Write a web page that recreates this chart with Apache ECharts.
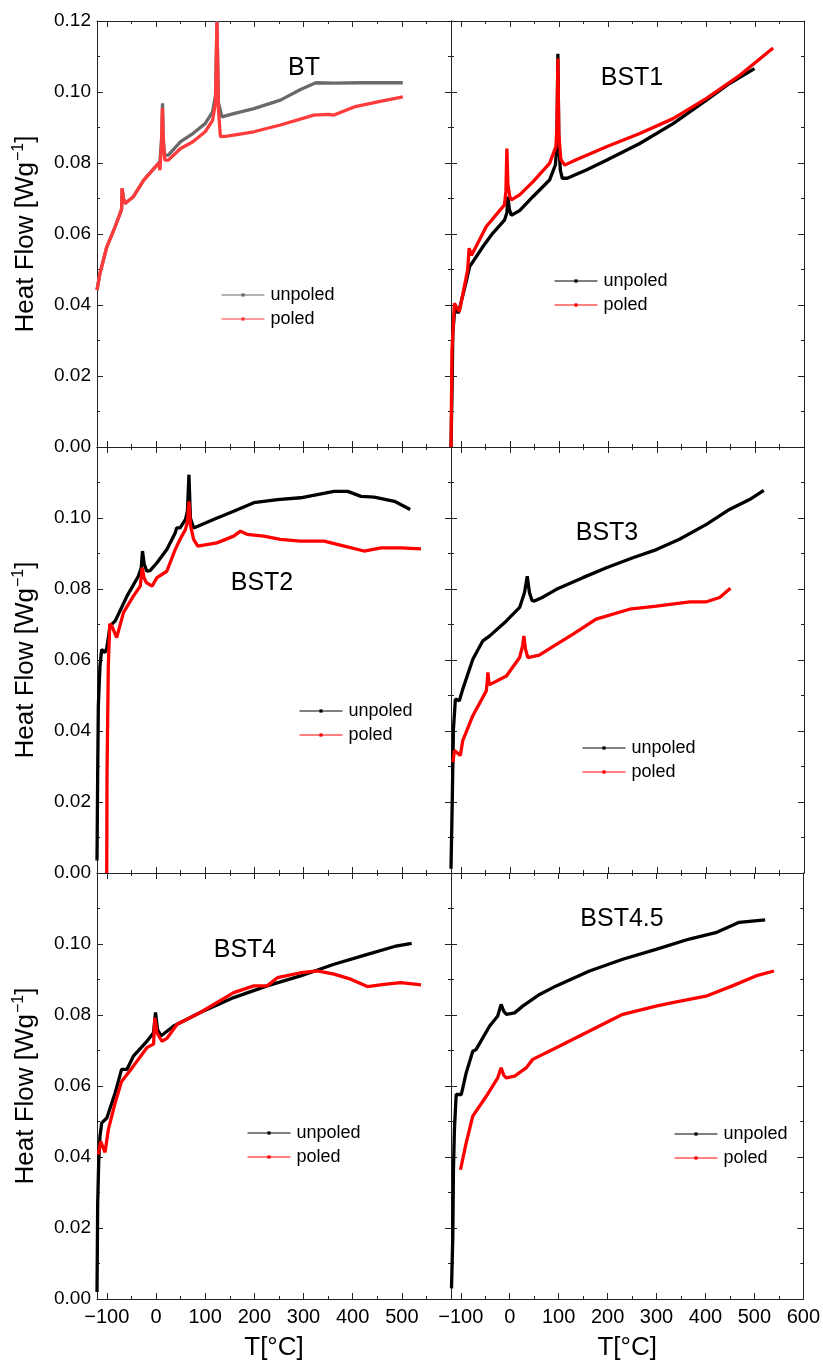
<!DOCTYPE html>
<html>
<head>
<meta charset="utf-8">
<script src="https://cdn.jsdelivr.net/npm/echarts@6/dist/echarts.min.js"></script>
<style>
html,body{margin:0;padding:0;background:#fff;}
#c{width:823px;height:1363px;}
</style>
</head>
<body>
<div id="c"></div>
<script>
// ---------- DATA (T in °C, heat flow in W/g) ----------
const panelNames = ['BT', 'BST1', 'BST2', 'BST3', 'BST4', 'BST4.5'];
const seriesLabels = ['unpoled', 'poled'];
const yTickValues = [0, 0.02, 0.04, 0.06, 0.08, 0.10, 0.12];
const xMajorTicks = [-100, 0, 100, 200, 300, 400, 500, 600];
const xMinorTicks = [-50, 50, 150, 250, 350, 450, 550];
const xLabelsLeft = [-100, 0, 100, 200, 300, 400, 500];
const xLabelsRight = [-100, 0, 100, 200, 300, 400, 500, 600];

const btUnpoled = [[-120,0.0442],[-114,0.0489],[-100,0.0564],[-83,0.0621],[-73,0.0658],[-70,0.067],[-69,0.0729],[-66,0.07],[-63,0.0686],[-46,0.0705],[-25,0.0752],[5,0.0799],[8,0.0805],[12,0.088],[13.3,0.0968],[14.5,0.088],[17,0.0822],[25,0.0822],[50,0.086],[75,0.0883],[100,0.0911],[115,0.0944],[121,0.099],[124,0.12],[127,0.097],[134,0.093],[158,0.0939],[199,0.0953],[253,0.0977],[294,0.1007],[325,0.1026],[361,0.1025],[420,0.1026],[502,0.1026]];
const btPoled = [[-120,0.0442],[-114,0.0489],[-100,0.0564],[-83,0.0621],[-73,0.0658],[-70,0.067],[-69,0.0729],[-66,0.07],[-63,0.0686],[-46,0.0705],[-25,0.0752],[5,0.0799],[8,0.078],[11,0.085],[13,0.0955],[15,0.086],[18,0.0808],[25,0.0808],[50,0.0841],[75,0.086],[100,0.0888],[115,0.092],[121,0.097],[124,0.1197],[127,0.095],[131,0.0874],[145,0.0876],[199,0.0888],[253,0.0907],[321,0.0935],[350,0.0937],[362,0.0935],[403,0.0958],[451,0.0972],[502,0.0986]];

const bst1Unpoled = [[-120,0],[-118,0.015],[-116.3,0.0321],[-113,0.0377],[-110,0.039],[-105,0.0377],[-90,0.046],[-82,0.0508],[-78,0.0508],[-55,0.0564],[-35,0.0602],[-11,0.0639],[-6,0.066],[-4,0.0705],[-1,0.067],[3,0.0653],[20,0.0666],[47,0.0705],[81,0.0752],[93,0.0795],[96,0.085],[98,0.1108],[100,0.085],[103,0.078],[107,0.0757],[117,0.0757],[156,0.078],[197,0.0808],[265,0.0855],[333,0.0911],[401,0.0977],[448,0.1024],[499,0.1066]];
const bst1Poled = [[-120,0],[-118,0.0274],[-113,0.0405],[-110,0.041],[-103,0.0381],[-86,0.0499],[-83,0.056],[-82,0.0564],[-78,0.054],[-75,0.0536],[-48,0.0621],[-11,0.0682],[-8,0.072],[-6,0.0841],[-4,0.074],[0,0.0705],[3,0.0696],[20,0.071],[47,0.0747],[81,0.0799],[94,0.0846],[96,0.09],[98,0.1094],[100,0.088],[104,0.081],[112,0.0794],[133,0.0808],[197,0.0846],[265,0.0883],[333,0.0925],[401,0.0982],[469,0.1047],[537,0.1124]];

const bst2Unpoled = [[-120,0.0035],[-118.6,0.0284],[-117.3,0.0471],[-114,0.0583],[-110.5,0.063],[-104,0.0621],[-100,0.0634],[-93.5,0.0696],[-83,0.071],[-59,0.078],[-36,0.0836],[-30,0.086],[-27.5,0.0907],[-24,0.087],[-18.6,0.085],[-12,0.0852],[2,0.0874],[22,0.0911],[39,0.0958],[42,0.0972],[49,0.0972],[60,0.0996],[64,0.102],[67,0.1122],[70,0.1],[76.5,0.0972],[85,0.0977],[117,0.0996],[158,0.1019],[199,0.1043],[247,0.1052],[294,0.1057],[328,0.1066],[362,0.1075],[390,0.1075],[417,0.1061],[444,0.1059],[485,0.1047],[517,0.1024]];
const bst2Poled = [[-100.2,0],[-99.6,0.0281],[-97,0.0583],[-94,0.0702],[-90,0.0696],[-85,0.068],[-80,0.0663],[-77,0.0663],[-66,0.0734],[-46,0.078],[-32,0.0808],[-28,0.086],[-24,0.083],[-19.6,0.0818],[-8,0.0808],[2,0.0832],[22,0.085],[39,0.0911],[49,0.094],[60,0.0968],[64,0.099],[67,0.1047],[70,0.098],[76.5,0.094],[85,0.0921],[124,0.093],[158,0.0949],[172,0.0963],[185,0.0954],[219,0.0949],[253,0.094],[294,0.0935],[342,0.0935],[383,0.0921],[423,0.0907],[458,0.0916],[498,0.0916],[539,0.0913]];

const bst3Unpoled = [[-120,0.0012],[-117.6,0.019],[-115,0.0406],[-111,0.049],[-103,0.0485],[-96,0.0518],[-75.5,0.0602],[-55,0.0654],[-41,0.0668],[-7,0.071],[20,0.0748],[30,0.079],[35.5,0.0836],[40,0.079],[45,0.0768],[50,0.0766],[66,0.0776],[95,0.0799],[149,0.0832],[197,0.086],[251,0.0888],[299,0.0911],[346,0.094],[401,0.0982],[448,0.1024],[489,0.1052],[518,0.1078]];
const bst3Poled = [[-116,0.0312],[-113,0.0345],[-101,0.0331],[-96,0.0373],[-75.5,0.0443],[-48,0.0513],[-46,0.054],[-44.8,0.0565],[-42,0.053],[-41,0.0526],[-7,0.0555],[20,0.0607],[26,0.064],[28.6,0.0668],[32,0.063],[36.7,0.0607],[60,0.0614],[95,0.0644],[129,0.0673],[176,0.0715],[244,0.0743],[299,0.0752],[367,0.0764],[401,0.0764],[428,0.0776],[450,0.0802]];

const bst4Unpoled = [[-120,0.002],[-118.6,0.027],[-116.6,0.0383],[-114,0.0458],[-110.4,0.0496],[-100,0.051],[-83,0.0581],[-70,0.0647],[-59,0.0647],[-46,0.0684],[-18.6,0.0726],[-5,0.075],[-1,0.0807],[3,0.076],[10,0.0741],[36,0.0769],[90,0.0807],[158,0.0849],[226,0.0882],[294,0.091],[362,0.0943],[430,0.0971],[485,0.0993],[520,0.1002]];
const bst4Poled = [[-117.3,0.0407],[-112.5,0.0444],[-103.7,0.0413],[-97,0.0477],[-83,0.0553],[-70,0.0613],[-46,0.0656],[-18.6,0.0708],[-5,0.0718],[-2.3,0.0792],[2,0.075],[12,0.0726],[22,0.0734],[43,0.0774],[90,0.0807],[158,0.0863],[199,0.0882],[226,0.0882],[247,0.0905],[294,0.0919],[328,0.0924],[362,0.0915],[396,0.0901],[430,0.088],[464,0.0886],[498,0.0891],[539,0.0885]];

const bst45Unpoled = [[-119,0.003],[-116.3,0.0176],[-115,0.0364],[-113,0.0477],[-109.4,0.0576],[-99,0.0576],[-89,0.0637],[-75.5,0.0698],[-68.6,0.0703],[-41,0.0769],[-24.5,0.0797],[-17.6,0.083],[-12,0.081],[-7,0.0802],[10,0.0806],[26.5,0.0825],[61,0.0858],[95,0.0882],[163,0.0924],[231,0.0957],[299,0.0985],[367,0.1014],[421,0.1032],[469,0.1061],[522,0.1068]];
const bst45Poled = [[-100.6,0.0364],[-89,0.044],[-75.5,0.0515],[-72,0.052],[-48,0.0571],[-24.5,0.0623],[-17.6,0.0651],[-12,0.063],[-7,0.0623],[10,0.0628],[33.5,0.0651],[47,0.0675],[95,0.0708],[163,0.0755],[231,0.0802],[299,0.0825],[333,0.0835],[401,0.0853],[455,0.0882],[503,0.091],[540,0.0924]];

// ---------- LAYOUT / STYLE ----------
const panelData = [
  [btUnpoled, btPoled], [bst1Unpoled, bst1Poled],
  [bst2Unpoled, bst2Poled], [bst3Unpoled, bst3Poled],
  [bst4Unpoled, bst4Poled], [bst45Unpoled, bst45Poled]
];
const FONT = 'Liberation Sans, Arial, Helvetica, sans-serif';
const AX = '#222';
const gridTops = [21, 447, 873];
const gridH = 426;
const colLeft = [97, 451];
const colW = [354, 353];
const unpoledColors = ['#6a6a6a', '#000', '#000', '#000', '#000', '#000'];
const poledColors = ['#ff3b3b', '#ff0000', '#ff0000', '#ff0000', '#ff0000', '#ff0000'];
const labelPos = [[304, 68], [632, 78], [262, 583], [607, 533], [245, 950], [622, 919]];
const legendPos = [[221, 286], [554, 272], [299, 702], [582, 739], [247, 1124], [674, 1125]];

function fmtX(v) { return v < 0 ? '\u2212' + Math.abs(v) : String(v); }

const grid = [], xAxis = [], yAxis = [], series = [], legend = [], graphic = [];
for (let i = 0; i < 6; i++) {
  const row = Math.floor(i / 2), col = i % 2;
  grid.push({ left: colLeft[col], top: gridTops[row], width: colW[col], height: gridH, containLabel: false });
  const baseX = {
    gridIndex: i, type: 'value', min: -120, max: 600,
    splitLine: { show: false },
    axisLine: { show: true, onZero: false, lineStyle: { color: AX, width: 1 } },
    axisPointer: { show: false }
  };
  const isBottom = row === 2;
  xAxis.push(Object.assign({}, baseX, {
    position: 'bottom',
    axisTick: { show: true, inside: true, length: 6, customValues: xMajorTicks, lineStyle: { color: AX } },
    axisLabel: {
      show: isBottom, customValues: col === 0 ? xLabelsLeft : xLabelsRight,
      formatter: fmtX, fontSize: 20, color: '#000', fontFamily: FONT, margin: 8
    },
    name: isBottom ? 'T[°C]' : '', nameLocation: 'middle', nameGap: 36,
    nameTextStyle: { fontSize: 26, color: '#000', fontFamily: FONT }
  }));
  xAxis.push(Object.assign({}, baseX, {
    position: 'bottom', axisLine: { show: false, onZero: false },
    axisTick: { show: true, inside: true, length: 3, customValues: xMinorTicks, lineStyle: { color: AX } },
    axisLabel: { show: false }
  }));
  xAxis.push(Object.assign({}, baseX, {
    position: 'top',
    axisTick: { show: true, inside: true, length: 6, customValues: xMajorTicks, lineStyle: { color: AX } },
    axisLabel: { show: false }
  }));
  xAxis.push(Object.assign({}, baseX, {
    position: 'top', axisLine: { show: false, onZero: false },
    axisTick: { show: true, inside: true, length: 3, customValues: xMinorTicks, lineStyle: { color: AX } },
    axisLabel: { show: false }
  }));

  const baseY = {
    gridIndex: i, type: 'value', min: 0, max: 0.12, interval: 0.02,
    splitLine: { show: false },
    axisLine: { show: true, onZero: false, lineStyle: { color: AX, width: 1 } },
    axisTick: { show: true, inside: true, length: 6, lineStyle: { color: AX } },
    minorTick: { show: true, splitNumber: 2, length: 3, lineStyle: { color: AX } },
    axisPointer: { show: false }
  };
  yAxis.push(Object.assign({}, baseY, {
    position: 'left',
    axisLabel: {
      show: col === 0, fontSize: 19, color: '#000', fontFamily: FONT, margin: 6,
      formatter: function (v) { if (row > 0 && v > 0.11) return ''; return v.toFixed(2); }
    },
    name: col === 0 ? '{a|Heat Flow [Wg}{b|\u22121}{a|]}' : '',
    nameLocation: 'middle', nameGap: 57,
    nameTextStyle: {
      color: '#000', fontFamily: FONT, fontSize: 26,
      rich: {
        a: { fontSize: 26, fontFamily: FONT, color: '#000', lineHeight: 29 },
        b: { fontSize: 16, fontFamily: FONT, color: '#000', verticalAlign: 'top', lineHeight: 29, padding: [0, 0, 12, 1] }
      }
    }
  }));
  yAxis.push(Object.assign({}, baseY, { position: 'right', axisLabel: { show: false } }));

  const names = [panelNames[i] + '|' + seriesLabels[0], panelNames[i] + '|' + seriesLabels[1]];
  const cols = [unpoledColors[i], poledColors[i]];
  for (let s = 0; s < 2; s++) {
    series.push({
      name: names[s], type: 'line', xAxisIndex: 4 * i, yAxisIndex: 2 * i,
      data: panelData[i][s], showSymbol: false, symbol: 'rect', symbolSize: 3,
      color: cols[s], lineStyle: { width: 3.3, color: cols[s] },
      itemStyle: { color: cols[s] },
      silent: true, z: 2 + s, clip: true
    });
  }
  legend.push({
    data: names, orient: 'vertical', left: legendPos[i][0], top: legendPos[i][1],
    padding: 0, itemGap: 6, itemWidth: 43, itemHeight: 4,
    lineStyle: { width: 1 },
    selectedMode: false,
    formatter: function (n) { return n.split('|')[1]; },
    textStyle: { fontSize: 18, color: '#000', fontFamily: FONT, padding: [0, 0, 0, 1] }
  });
  graphic.push({
    type: 'text', x: labelPos[i][0], y: labelPos[i][1],
    style: { text: panelNames[i], fontSize: 25, fontFamily: FONT, fill: '#000', align: 'center', verticalAlign: 'middle' }
  });
}

const chart = echarts.init(document.getElementById('c'), null, { renderer: 'canvas' });
chart.setOption({
  animation: false, backgroundColor: '#fff',
  grid, xAxis, yAxis, series, legend, graphic
});
</script>
</body>
</html>
